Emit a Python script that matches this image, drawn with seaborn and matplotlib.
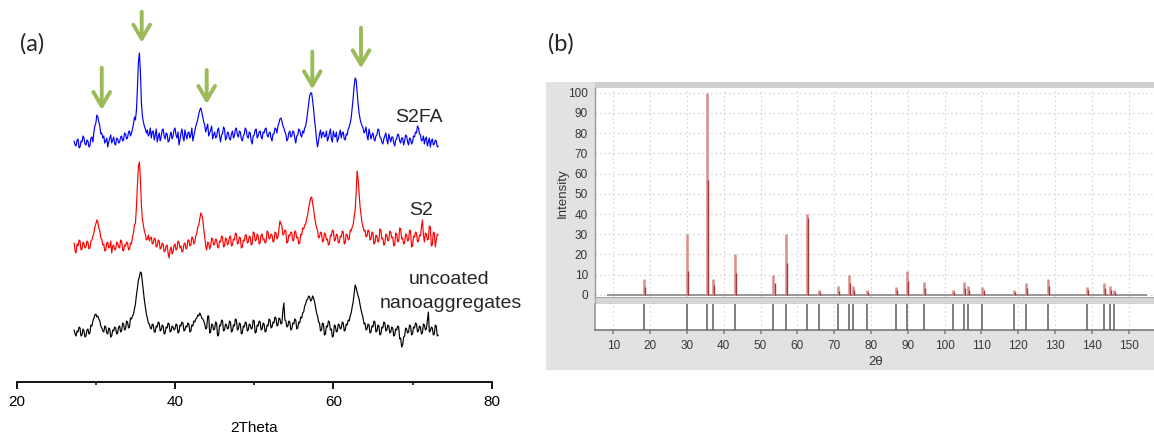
import numpy as np
import pandas as pd
import matplotlib
matplotlib.use("Agg")
import matplotlib.pyplot as plt
import seaborn as sns
from matplotlib.patches import Rectangle

# ---------------- data ----------------
# panel (a): 2-theta scan grid (deg)
scan_start, scan_stop, scan_step = 27.25, 73.25, 0.125

s2fa_counts = [
    9, 5, 4, 10, 11, 2, 3, 9, 8, 14, 12, 6, 5, 10,
    9, 3, 4, 12, 13, 8, 18, 24, 27, 35, 33, 28, 24, 16, 17, 12,
    14, 7, 9, 12, 3, 8, 12, 15, 7, 10, 13, 6, 5, 12, 11, 7,
    8, 13, 14, 9, 10, 17, 16, 11, 12, 18, 19, 14, 17, 21, 26, 33,
    30, 40, 62, 88, 97, 78, 48, 34, 28, 24, 21, 17, 20, 14, 16, 22,
    12, 18, 19, 10, 15, 21, 8, 13, 17, 9, 13, 20, 21, 14, 11, 17,
    16, 8, 9, 15, 18, 11, 14, 20, 22, 15, 12, 18, 5, 10, 17, 21,
    13, 9, 20, 15, 11, 17, 18, 12, 15, 22, 9, 14, 19, 24, 27, 31,
    36, 40, 42, 38, 33, 28, 25, 18, 22, 26, 14, 17, 20, 24, 11, 15,
    18, 12, 13, 20, 22, 14, 8, 15, 16, 23, 21, 10, 12, 18, 17, 11,
    10, 16, 19, 12, 14, 21, 22, 15, 13, 19, 18, 11, 9, 14, 16, 22,
    20, 13, 12, 18, 17, 9, 6, 14, 15, 20, 21, 12, 14, 18, 19, 13,
    11, 18, 17, 21, 22, 15, 13, 17, 18, 12, 9, 16, 16, 22, 21, 17,
    24, 27, 31, 32, 29, 24, 22, 18, 16, 9, 11, 17, 19, 13, 14, 19,
    18, 12, 7, 14, 15, 21, 20, 15, 13, 19, 17, 22, 24, 30, 38, 46,
    54, 57, 57, 50, 41, 30, 21, 10, 3, 9, 16, 20, 12, 17, 18, 13,
    14, 19, 9, 12, 17, 21, 11, 8, 19, 14, 13, 18, 8, 11, 16, 20,
    12, 17, 18, 11, 10, 16, 15, 21, 23, 27, 32, 42, 52, 64, 72, 70,
    58, 46, 37, 31, 27, 24, 22, 17, 19, 23, 14, 10, 21, 16, 11, 15,
    17, 11, 9, 14, 15, 21, 20, 13, 12, 8, 6, 11, 14, 17, 10, 6,
    16, 12, 8, 13, 13, 7, 4, 10, 11, 16, 15, 9, 7, 12, 12, 5,
    9, 15, 14, 8, 5, 12, 11, 6, 8, 14, 13, 18, 17, 24, 22, 16,
    15, 9, 10, 14, 6, 11, 13, 4, 8, 12, 3, 9, 11, 5, 6, 10,
    9, 3, 4,
]

s2_counts = [
    12, 4, 2, 11, 9, 15, 14, 5, 6, 13, 11, 7, 8, 14,
    13, 6, 7, 14, 15, 19, 22, 28, 31, 35, 33, 27, 24, 17, 16, 10,
    11, 4, 5, 12, 13, 7, 8, 14, 2, 9, 10, 5, 6, 13, 12, 8,
    7, 15, 14, 5, 4, 10, 9, 13, 12, 5, 6, 12, 11, 18, 22, 30,
    32, 48, 70, 89, 93, 76, 50, 36, 30, 24, 21, 15, 16, 20, 14, 17,
    18, 11, 12, 17, 16, 8, 9, 15, 14, 6, 7, 12, 11, 3, 4, 9,
    10, 2, -3, 5, 8, 1, 3, 10, 11, 5, 6, 14, 13, 7, 9, 3,
    4, 11, 12, 6, 7, 15, 15, 9, 10, 18, 17, 11, 13, 19, 22, 28,
    30, 36, 42, 40, 36, 26, 18, 9, 5, 13, 12, 6, 9, 17, 16, 10,
    11, 16, 15, 8, 7, 14, 13, 19, 18, 8, 9, 17, 16, 10, 12, 18,
    19, 9, 10, 16, 15, 22, 21, 11, 12, 18, 17, 7, 8, 15, 14, 20,
    20, 12, 13, 19, 18, 10, 11, 23, 22, 14, 15, 21, 19, 11, 12, 20,
    21, 15, 16, 12, 13, 24, 23, 16, 17, 21, 20, 13, 14, 23, 22, 16,
    18, 26, 34, 31, 29, 20, 21, 25, 24, 12, 13, 20, 19, 23, 22, 14,
    15, 24, 23, 17, 18, 11, 12, 21, 20, 27, 26, 30, 31, 36, 40, 47,
    52, 57, 58, 52, 46, 38, 32, 27, 25, 17, 18, 23, 22, 13, 14, 22,
    21, 15, 16, 10, 11, 20, 19, 25, 24, 14, 15, 21, 20, 12, 13, 19,
    18, 24, 23, 11, 12, 21, 20, 15, 16, 25, 24, 28, 30, 38, 45, 62,
    84, 76, 62, 48, 40, 32, 28, 24, 25, 18, 19, 25, 24, 15, 16, 23,
    22, 11, 12, 20, 19, 13, 14, 26, 25, 16, 17, 10, 11, 21, 20, 14,
    15, 24, 23, 17, 18, 9, 10, 22, 21, 13, 14, 27, 26, 16, 17, 11,
    12, 21, 20, 14, 15, 25, 24, 8, 9, 19, 18, 23, 22, 13, 14, 20,
    19, 28, 35, 20, 13, 22, 21, 15, 16, 29, 28, 9, 10, 23, 22, 8,
    15, 21, 20,
]

uncoated_counts = [
    10, 6, 4, 9, 8, 13, 12, 4, 5, 11, 9, 3, 4, 10,
    11, 6, 7, 15, 14, 19, 22, 25, 26, 23, 24, 21, 19, 14, 12, 9,
    8, 14, 13, 7, 6, 12, 11, 3, 4, 10, 9, 13, 12, 6, 7, 13,
    14, 8, 9, 17, 16, 10, 11, 19, 18, 12, 13, 22, 21, 24, 26, 31,
    36, 45, 52, 60, 63, 68, 67, 58, 50, 40, 33, 26, 22, 17, 16, 12,
    11, 16, 15, 8, 8, 14, 13, 18, 17, 9, 10, 15, 14, 6, 7, 13,
    12, 17, 16, 8, 9, 14, 13, 10, 11, 16, 15, 7, 8, 15, 14, 18,
    17, 9, 10, 14, 13, 17, 16, 8, 9, 15, 14, 19, 18, 21, 22, 25,
    24, 27, 25, 22, 21, 19, 16, 11, 12, 24, 24, 7, 8, 16, 15, 10,
    11, 18, 17, 4, 5, 15, 14, 20, 19, 9, 10, 16, 15, 11, 12, 19,
    18, 8, 9, 15, 14, 21, 20, 10, 11, 17, 16, 6, 7, 14, 13, 18,
    17, 9, 10, 16, 15, 11, 12, 20, 19, 7, 8, 15, 14, 19, 18, 10,
    11, 17, 16, 8, 9, 15, 14, 21, 20, 12, 13, 18, 17, 23, 22, 14,
    15, 22, 21, 16, 17, 30, 37, 20, 19, 13, 14, 19, 18, 10, 11, 17,
    16, 21, 20, 11, 12, 18, 17, 23, 22, 27, 28, 34, 36, 40, 41, 44,
    43, 39, 40, 44, 42, 38, 33, 27, 24, 18, 17, 9, 10, 17, 16, 5,
    6, 14, 13, 19, 18, 10, 11, 3, 4, 15, 14, 8, 9, 16, 15, 11,
    12, 18, 17, 9, 10, 16, 15, 20, 19, 24, 27, 33, 38, 47, 55, 52,
    48, 44, 41, 35, 30, 26, 22, 16, 17, 10, 11, 16, 15, 7, 8, 14,
    13, 19, 18, 8, 9, 15, 14, 5, 6, 13, 12, 18, 17, 9, 10, 15,
    14, 7, 8, 13, 12, 4, 5, 11, 10, 14, 13, 1, 2, -7, -5, 3,
    4, 12, 11, 7, 8, 15, 14, 5, 6, 13, 12, 17, 16, 8, 9, 14,
    13, 6, 7, 16, 15, 10, 11, 20, 28, 8, 9, 13, 12, 5, 6, 15,
    14, 4, 5,
]

sample_names = ["S2FA", "S2", "uncoated"]
sample_colors = ["#0000FF", "#FF0000", "#000000"]
marked_peaks = [30.74, 35.79, 44.0, 57.34, 63.49]
a_xticks = [20, 40, 60, 80]

# panel (b): reference pattern
ref_two_theta = [18.3, 30.1, 35.5, 37.1, 43.1, 53.5, 57.0, 62.6, 65.8, 71.0,
                 74.0, 75.0, 79.0, 86.8, 89.7, 94.5, 102.3, 105.3, 106.3, 110.3,
                 118.9, 122.2, 128.0, 138.8, 143.3, 145.0, 145.9]
ref_intensity = [8, 30, 100, 8, 20, 10, 30, 40, 2.5, 4.5,
                 10, 4.5, 2.5, 4, 12, 6.5, 2.5, 6.5, 4.5, 4,
                 2.5, 6, 8, 4, 6, 4.5, 2.5]
ref_intensity_ka2 = [4, 12, 57, 5, 11, 6, 16, 38, 1.5, 2,
                     6, 2.5, 1.5, 2.5, 7, 3.5, 1.5, 3.5, 2.5, 2.5,
                     1.5, 3.5, 4.5, 2.5, 3.5, 2.5, 1.5]
ref_scan_range = [8.3, 155.0]
ref_yticks = list(range(0, 101, 10))
ref_xticks = list(range(10, 151, 10))

# ---------------- figure ----------------
sns.set_theme(style="white")
plt.rcParams["font.family"] = ["Liberation Sans", "DejaVu Sans"]

W, H = 1154, 433
fig = plt.figure(figsize=(W / 100, H / 100), dpi=100)
fig.patch.set_facecolor("white")


def fx(px):
    return px / W


def fy(py):
    return 1 - py / H


# ---- panel (a) ----
two_theta = np.arange(scan_start, scan_stop + 1e-9, scan_step)
offsets = {"S2FA": 232, "S2": 127, "uncoated": 42}
frames = []
for name, counts in zip(sample_names, [s2fa_counts, s2_counts, uncoated_counts]):
    assert len(counts) == len(two_theta), (name, len(counts), len(two_theta))
    frames.append(pd.DataFrame({"two_theta": two_theta,
                                "counts": np.array(counts, float),
                                "sample": name}))
df = pd.concat(frames, ignore_index=True)
df["shifted"] = df["counts"] + df["sample"].map(offsets)

ax_a = fig.add_axes([fx(16.7), fy(382), fx(491.7) - fx(16.7), fy(5) - fy(382)])
sns.lineplot(data=df, x="two_theta", y="shifted", hue="sample",
             palette=dict(zip(sample_names, sample_colors)),
             estimator=None, sort=False, linewidth=0.85, legend=False, ax=ax_a)
ax_a.set_xlim(20, 80)
ax_a.set_ylim(0, 377)
for s in ["left", "top", "right"]:
    ax_a.spines[s].set_visible(False)
ax_a.spines["bottom"].set_color("black")
ax_a.spines["bottom"].set_linewidth(1.3)
ax_a.set_yticks([])
ax_a.set_xticks(a_xticks)
ax_a.set_xticks([30, 50, 70], minor=True)
ax_a.tick_params(axis="x", which="major", direction="out", length=5, width=1.3,
                 labelsize=11, pad=4, colors="black", bottom=True)
ax_a.tick_params(axis="x", which="minor", direction="out", length=2.5, width=1.3,
                 bottom=True)
ax_a.set_xlabel("2Theta", fontsize=11, labelpad=9, color="black")
ax_a.set_ylabel("")

green = "#9BBB59"
arrow_top = [314.3, 370.3, 312, 330.3, 354.3]
arrow_tip = [272, 339.3, 278, 292.7, 313.7]
for xp, yt, yb in zip(marked_peaks, arrow_top, arrow_tip):
    ax_a.annotate("", xy=(xp, yb), xytext=(xp, yt),
                  arrowprops=dict(arrowstyle="->,head_length=0.85,head_width=0.5",
                                  lw=2.8, color=green, shrinkA=0, shrinkB=0),
                  annotation_clip=False)

lab_fs = 14
ax_a.text(67.8, 260.3, "S2FA", fontsize=lab_fs, ha="left", va="baseline")
ax_a.text(69.55, 167, "S2", fontsize=lab_fs, ha="left", va="baseline")
ax_a.text(74.6, 98.5, "uncoated", fontsize=lab_fs, ha="center", va="baseline", clip_on=False)
ax_a.text(74.8, 73.5, "nanoaggregates", fontsize=lab_fs, ha="center", va="baseline", clip_on=False)

fig.text(fx(20), fy(44), "(a)", fontsize=17, family=["Lato", "DejaVu Sans"],
         ha="left", va="center")
fig.text(fx(548), fy(44), "(b)", fontsize=17, family=["Lato", "DejaVu Sans"],
         ha="left", va="center")

# ---- panel (b) ----
fig.add_artist(Rectangle((fx(546), fy(370)), 1 - fx(546), fy(82) - fy(370),
                         transform=fig.transFigure, facecolor="#E2E2E2",
                         edgecolor="none", zorder=-2))
fig.add_artist(Rectangle((fx(595), fy(87.5)), 1 - fx(595), fy(82) - fy(87.5),
                         transform=fig.transFigure, facecolor="#D0D0D0",
                         edgecolor="none", zorder=-1))
fig.add_artist(Rectangle((fx(595), fy(304)), 1 - fx(595), fy(297) - fy(304),
                         transform=fig.transFigure, facecolor="#D6D6D6",
                         edgecolor="#A8A8A8", linewidth=0.8, zorder=-1))

xl = (5.03, 156.9)
ax_b = fig.add_axes([fx(595), fy(297), 1 - fx(595), fy(87.5) - fy(297)])
ax_b.set_facecolor("white")
ax_b.set_xlim(*xl)
ax_b.set_ylim(-1, 102.5)
ax_b.set_axisbelow(True)
ax_b.grid(True, linestyle=(0, (1.5, 2.5)), color="#D2D2D2", linewidth=0.8)
ax_b.hlines(0, ref_scan_range[0], ref_scan_range[1], color="#8E8E8E", linewidth=1.3, zorder=2)
ax_b.vlines(ref_two_theta, 0, ref_intensity, color="#D98C8C", linewidth=1.8, zorder=3)
ax_b.vlines(np.array(ref_two_theta) + 0.3, 0, ref_intensity_ka2, color="#A83838",
            linewidth=1.0, zorder=4)
ax_b.set_xticks(ref_xticks)
ax_b.set_yticks(ref_yticks)
ax_b.tick_params(axis="x", length=0, labelbottom=False)
ax_b.tick_params(axis="y", length=3, color="#8A8A8A", labelsize=8.5, labelcolor="#383838", pad=2)
for s in ["top", "right", "bottom"]:
    ax_b.spines[s].set_visible(False)
ax_b.spines["left"].set_color("#9A9A9A")
ax_b.spines["left"].set_linewidth(1.0)

ax_s = fig.add_axes([fx(595), fy(330), 1 - fx(595), fy(304) - fy(330)])
ax_s.set_facecolor("white")
ax_s.set_xlim(*xl)
ax_s.set_ylim(0, 1)
ax_s.set_axisbelow(True)
ax_s.set_xticks(ref_xticks)
ax_s.set_yticks([])
ax_s.grid(True, axis="x", linestyle=(0, (1.5, 2.5)), color="#D8D8D8", linewidth=0.8)
ax_s.vlines(ref_two_theta, 0, 1, color="#5C5C5C", linewidth=1.1, zorder=3)
ax_s.tick_params(axis="x", length=3, color="#8A8A8A", labelsize=8.5,
                 labelcolor="#383838", pad=4, bottom=True)
for s in ["top", "right"]:
    ax_s.spines[s].set_visible(False)
ax_s.spines["left"].set_color("#9A9A9A")
ax_s.spines["bottom"].set_color("#7A7A7A")
ax_s.spines["bottom"].set_linewidth(1.2)

fig.text(fx(563), fy(193), "Intensity", rotation=90, fontsize=9.5, color="#333333",
         ha="center", va="center")
fig.text(fx(876), fy(362), "2θ", fontsize=9.5, color="#333333", ha="center", va="center")

fig.savefig("out.png", dpi=100, facecolor="white")
